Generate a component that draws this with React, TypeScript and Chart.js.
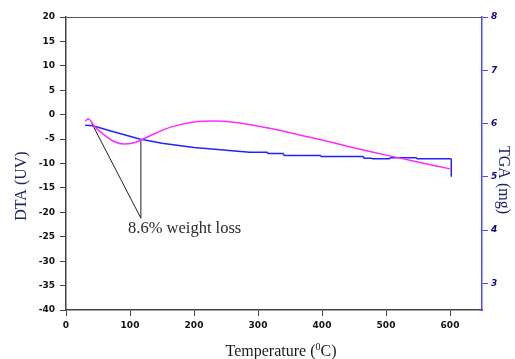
import React, { useEffect, useRef } from "react";
import { Chart, registerables } from "chart.js";

Chart.register(...registerables);

// DTA (left axis, UV) vs temperature
const dtaTemp = [30, 35, 45, 60, 75, 90, 105, 117, 140, 165, 200, 230, 265, 290, 330, 366, 400, 444, 480, 522, 560, 600];
const dtaValues = [-1.3, -0.9, -2.5, -4.2, -5.5, -6.0, -5.8, -5.2, -3.8, -2.5, -1.5, -1.3, -1.6, -2.1, -3.1, -4.2, -5.2, -6.6, -7.7, -8.9, -10.0, -11.1];

// TGA (right axis, mg) vs temperature
const tgaTemp = [30, 42, 70, 115, 150, 200, 287, 314, 316, 339, 341, 397, 399, 464, 466, 477, 479, 505, 507, 547, 549, 600, 602, 602];
const tgaValues = [5.97, 5.96, 5.86, 5.71, 5.63, 5.55, 5.46, 5.46, 5.44, 5.44, 5.40, 5.40, 5.38, 5.38, 5.35, 5.35, 5.34, 5.34, 5.36, 5.36, 5.34, 5.34, 5.33, 5.0];

// annotation guide lines (temperature, DTA)
const guideTemp = [40, 117, 117];
const guideValues = [-1.7, -21.2, -5.0];
const annotationText = "8.6% weight loss";
const annotationAt = { x: 97, y: -23.4 };

const xTicks = [0, 100, 200, 300, 400, 500, 600];
const yTicks = [-40, -35, -30, -25, -20, -15, -10, -5, 0, 5, 10, 15, 20];
const y2Ticks = [3, 4, 5, 6, 7, 8];

const xTitle = ["Temperature (", "0", "C)"];
const yTitle = "DTA (UV)";
const y2Title = "TGA (mg)";

const tickFont = { family: "DejaVu Sans", size: 9, weight: "bold" as const };

const textPlugin = {
  id: "texts",
  afterDraw(chart: any) {
    const ctx = chart.ctx;
    const { chartArea } = chart;
    const xs = chart.scales.x;
    const ys = chart.scales.y;
    ctx.save();
    // top frame line
    ctx.strokeStyle = "#555";
    ctx.lineWidth = 1;
    ctx.beginPath();
    ctx.moveTo(chartArea.left, chartArea.top + 0.5);
    ctx.lineTo(chartArea.right, chartArea.top + 0.5);
    ctx.stroke();

    // annotation
    ctx.fillStyle = "#2a2a2a";
    ctx.font = "16.5px 'Liberation Serif'";
    ctx.textAlign = "left";
    ctx.textBaseline = "middle";
    ctx.fillText(annotationText, xs.getPixelForValue(annotationAt.x), ys.getPixelForValue(annotationAt.y));

    ctx.font = "16px 'Liberation Serif'";
    // left title
    ctx.save();
    ctx.translate(22, 186);
    ctx.rotate(-Math.PI / 2);
    ctx.textAlign = "center";
    ctx.fillStyle = "#1c2467";
    ctx.fillText(yTitle, 0, 0);
    ctx.restore();

    // right title
    ctx.save();
    ctx.translate(503, 180);
    ctx.rotate(Math.PI / 2);
    ctx.textAlign = "center";
    ctx.fillStyle = "#1c2467";
    ctx.fillText(y2Title, 0, 0);
    ctx.restore();

    // x title with superscript
    ctx.fillStyle = "#1a1a1a";
    ctx.font = "16px 'Liberation Serif'";
    const w1 = ctx.measureText(xTitle[0]).width;
    const w3 = ctx.measureText(xTitle[2]).width;
    ctx.font = "10px 'Liberation Serif'";
    const w2 = ctx.measureText(xTitle[1]).width;
    const total = w1 + w2 + w3;
    let x = 281 - total / 2;
    const y = 352;
    ctx.textAlign = "left";
    ctx.font = "16px 'Liberation Serif'";
    ctx.fillText(xTitle[0], x, y);
    x += w1;
    ctx.font = "10px 'Liberation Serif'";
    ctx.fillText(xTitle[1], x, y - 5);
    x += w2;
    ctx.font = "16px 'Liberation Serif'";
    ctx.fillText(xTitle[2], x, y);
    ctx.restore();
  },
};

export default function App() {
  const ref = useRef<HTMLCanvasElement | null>(null);
  useEffect(() => {
    if (!ref.current) return;
    const chart = new Chart(ref.current, {
      type: "line",
      data: {
        datasets: [
          {
            label: "DTA",
            data: dtaTemp.map((t, i) => ({ x: t, y: dtaValues[i] })),
            borderColor: "#ff2cff",
            borderWidth: 1.5,
            pointRadius: 0,
            cubicInterpolationMode: "monotone",
            yAxisID: "y",
          },
          {
            label: "TGA",
            data: tgaTemp.map((t, i) => ({ x: t, y: tgaValues[i] })),
            borderColor: "#2222ff",
            borderWidth: 1.5,
            pointRadius: 0,
            tension: 0,
            yAxisID: "y2",
          },
          {
            label: "guide",
            data: guideTemp.map((t, i) => ({ x: t, y: guideValues[i] })),
            borderColor: "#222",
            borderWidth: 1,
            pointRadius: 0,
            tension: 0,
            yAxisID: "y",
          },
        ],
      },
      options: {
        responsive: false,
        animation: false,
        layout: { padding: { top: 17, left: 0, right: 0, bottom: 0 } },
        plugins: { legend: { display: false }, tooltip: { enabled: false } },
        scales: {
          x: {
            type: "linear",
            position: "bottom",
            min: 0,
            max: 650,
            afterBuildTicks: (s: any) => { s.ticks = xTicks.map((v) => ({ value: v })); },
            afterFit: (s: any) => { s.height = 49; },
            grid: { drawOnChartArea: false, tickLength: 6, color: "#444" },
            border: { color: "#444", width: 1.5 },
            ticks: { font: tickFont, color: "#111", padding: 4, maxRotation: 0 },
          },
          y: {
            type: "linear",
            position: "left",
            min: -40,
            max: 20,
            afterBuildTicks: (s: any) => { s.ticks = yTicks.map((v) => ({ value: v })); },
            afterFit: (s: any) => { s.width = 66; },
            grid: { drawOnChartArea: false, tickLength: 6, color: "#444" },
            border: { color: "#444", width: 1.5 },
            ticks: { font: tickFont, color: "#111", padding: 5 },
          },
          y2: {
            type: "linear",
            position: "right",
            min: 2.5,
            max: 8,
            afterBuildTicks: (s: any) => { s.ticks = y2Ticks.map((v) => ({ value: v })); },
            afterFit: (s: any) => { s.width = 33; },
            grid: { drawOnChartArea: false, tickLength: 6, color: "#4a4aff" },
            border: { color: "#4a4aff", width: 1.5 },
            ticks: { font: { ...tickFont, style: "italic" }, color: "#0a0a80", padding: 3 },
          },
        },
      },
      plugins: [textPlugin],
    });
    return () => chart.destroy();
  }, []);
  return (
    <canvas
      ref={ref}
      width={515}
      height={359}
      style={{ position: "absolute", left: 0, top: 0, width: 515, height: 359 }}
    />
  );
}
